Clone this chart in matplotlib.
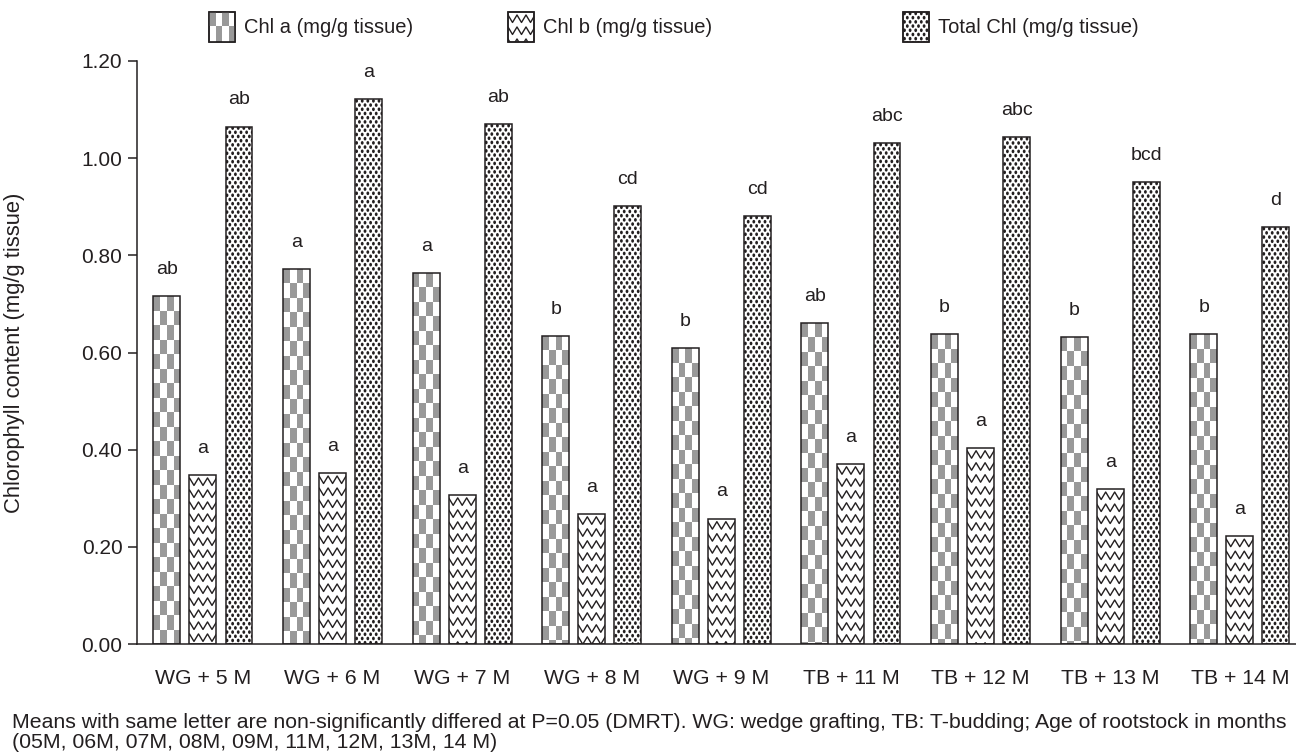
import matplotlib
matplotlib.use('Agg')
import matplotlib.pyplot as plt
import numpy as np
from matplotlib.patches import Rectangle
from matplotlib.collections import PatchCollection, LineCollection, EllipseCollection
from matplotlib.transforms import IdentityTransform

plt.rcParams['font.family'] = ['Liberation Sans', 'DejaVu Sans']

# datos
grupos = ['WG + 5 M', 'WG + 6 M', 'WG + 7 M', 'WG + 8 M', 'WG + 9 M',
          'TB + 11 M', 'TB + 12 M', 'TB + 13 M', 'TB + 14 M']
chl_a = [0.716, 0.772, 0.764, 0.634, 0.609, 0.661, 0.638, 0.632, 0.638]
chl_b = [0.348, 0.352, 0.307, 0.268, 0.258, 0.371, 0.404, 0.319, 0.222]
chl_total = [1.065, 1.121, 1.070, 0.902, 0.881, 1.031, 1.043, 0.951, 0.858]
letras_a = ['ab', 'a', 'a', 'b', 'b', 'ab', 'b', 'b', 'b']
letras_b = ['a', 'a', 'a', 'a', 'a', 'a', 'a', 'a', 'a']
letras_total = ['ab', 'a', 'ab', 'cd', 'cd', 'abc', 'abc', 'bcd', 'd']
etiquetas = ['Chl a (mg/g tissue)', 'Chl b (mg/g tissue)', 'Total Chl (mg/g tissue)']
yticks = [0.0, 0.2, 0.4, 0.6, 0.8, 1.0, 1.2]

negro = '#231f20'
gris = '#999999'


# texturas (en pixeles)
def cuadros(bb):
    cw = bb.width / 4
    ch = 14.5
    rects = []
    for r in range(int(np.ceil(bb.height / ch)) + 1):
        for c in range(4):
            if (r + c) % 2 == 0:
                rects.append(Rectangle((bb.x0 + c * cw, bb.y1 - (r + 1) * ch), cw, ch))
    return PatchCollection(rects, facecolor=gris, edgecolor='none', linewidth=0,
                           transform=IdentityTransform())


def zigzag(bb):
    periodo, amp, paso = 9.0, 7.5, 12.0
    segs = []
    xs = np.arange(bb.x0 - periodo, bb.x1 + periodo, periodo / 2)
    for k in range(int(np.ceil(bb.height / paso)) + 1):
        base = bb.y1 - 3 - k * paso
        ys = np.where(np.arange(len(xs)) % 2 == 0, base, base - amp)
        segs.append(np.column_stack([xs, ys]))
    return LineCollection(segs, colors=negro, linewidths=1.0,
                          transform=IdentityTransform())


def puntos(bb):
    dx, dy = 5.6, 4.2
    offs = []
    for k in range(int(np.ceil(bb.height / dy)) + 2):
        shift = 0 if k % 2 == 0 else dx / 2
        for xx in np.arange(bb.x0 + 1.5 + shift, bb.x1 + dx, dx):
            offs.append((xx, bb.y1 - 1.5 - k * dy))
    ec = EllipseCollection(2.8, 3.6, 0, units='dots', offsets=offs,
                           offset_transform=IdentityTransform(),
                           facecolors=negro, edgecolors='none')
    ec.set_transform(IdentityTransform())
    return ec


texturas = [cuadros, zigzag, puntos]

fig = plt.figure(figsize=(12.96, 7.55), dpi=100)
ax = fig.add_axes([137 / 1296, 1 - 644 / 755, 1 - 137 / 1296, (644 - 61) / 755])

x = np.arange(len(grupos))
ancho = 0.208
sep = 0.278
series = [chl_a, chl_b, chl_total]
letras = [letras_a, letras_b, letras_total]

ax.set_xlim(-0.509, 8.434)
ax.set_ylim(0, 1.2)

barras = []
for i, (vals, lets) in enumerate(zip(series, letras)):
    pos = x + (i - 1) * sep
    b = ax.bar(pos, vals, ancho, color='white', edgecolor='none', zorder=1)
    ax.bar(pos, vals, ancho, color='none', edgecolor=negro, linewidth=1.1, zorder=3)
    barras.append(b)
    for p, v, t in zip(pos, vals, lets):
        ax.annotate(t, (p, v), xytext=(0, 16), textcoords='offset points',
                    ha='center', va='baseline', fontsize=14, color=negro)

for sp in ['top', 'right']:
    ax.spines[sp].set_visible(False)
for sp in ['left', 'bottom']:
    ax.spines[sp].set_color(negro)
    ax.spines[sp].set_linewidth(1.1)

ax.set_yticks(yticks)
ax.set_yticklabels(['%.2f' % v for v in yticks])
ax.tick_params(axis='y', length=6.5, width=1.1, color=negro, labelsize=15, labelcolor=negro, pad=4)
ax.set_xticks(x)
ax.set_xticklabels(grupos)
ax.tick_params(axis='x', length=0, labelsize=15.3, labelcolor=negro, pad=18)
ax.set_ylabel('Chlorophyll content (mg/g tissue)', fontsize=15.8, color=negro)
ax.yaxis.set_label_coords(-0.097, 0.5)

# leyenda: tres entradas separadas
ley_x = [209, 508, 903]
leyendas = []
for xl, et in zip(ley_x, etiquetas):
    h = Rectangle((0, 0), 1, 1, facecolor='white', edgecolor=negro, linewidth=1.1)
    lg = fig.legend([h], [et], loc='center left', bbox_to_anchor=(xl / 1296, 1 - 27 / 755),
                    frameon=False, fontsize=14.5, handlelength=1.3, handleheight=1.92,
                    handletextpad=0.45, borderpad=0, borderaxespad=0, labelcolor=negro)
    leyendas.append(lg)

fig.text(12 / 1296, 1 - 722 / 755,
         'Means with same letter are non-significantly differed at P=0.05 (DMRT). '
         'WG: wedge grafting, TB: T-budding; Age of rootstock in months',
         fontsize=15.3, color=negro, va='center', ha='left')
fig.text(12 / 1296, 1 - 742 / 755, '(05M, 06M, 07M, 08M, 09M, 11M, 12M, 13M, 14 M)',
         fontsize=15.3, color=negro, va='center', ha='left')

fig.canvas.draw()

# texturas dentro de las barras
for b, tex in zip(barras, texturas):
    for patch in b.patches:
        t = tex(patch.get_window_extent())
        t.set_zorder(2)
        ax.add_artist(t)
        t.set_clip_path(patch)

# texturas de la leyenda
for lg, tex in zip(leyendas, texturas):
    bb = lg.legend_handles[0].get_window_extent()
    fondo = Rectangle((bb.x0, bb.y0), bb.width, bb.height, facecolor='white',
                      edgecolor='none', transform=IdentityTransform(), zorder=5)
    fig.add_artist(fondo)
    t = tex(bb)
    t.set_zorder(6)
    fig.add_artist(t)
    t.set_clip_path(fondo)
    borde = Rectangle((bb.x0, bb.y0), bb.width, bb.height, facecolor='none',
                      edgecolor=negro, linewidth=1.1, transform=IdentityTransform(), zorder=7)
    fig.add_artist(borde)

fig.savefig('out.png', dpi=100)
